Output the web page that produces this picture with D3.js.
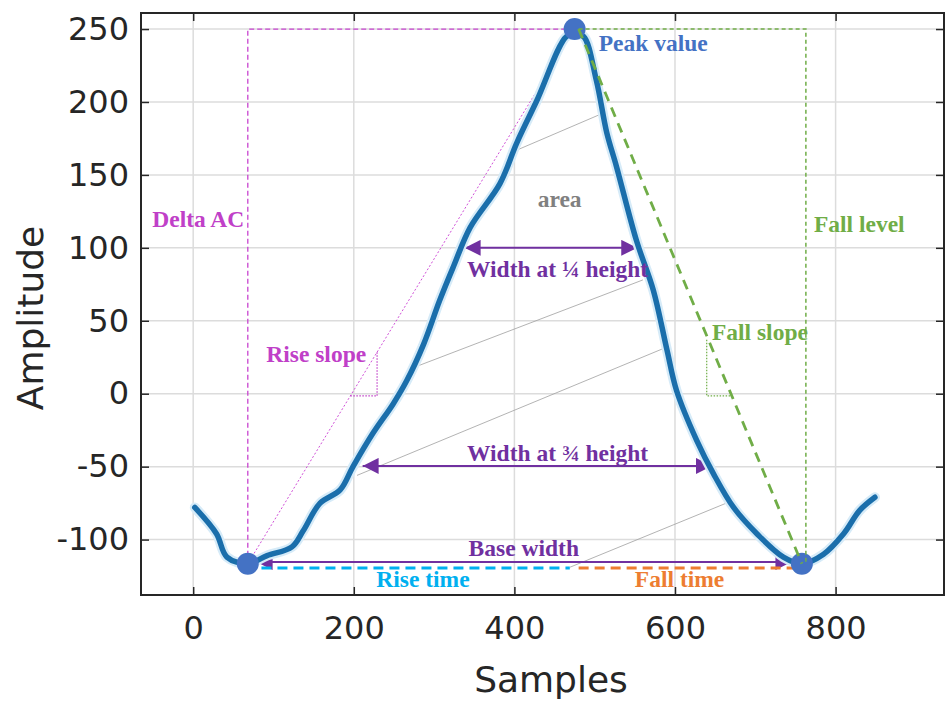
<!DOCTYPE html>
<html>
<head>
<meta charset="utf-8">
<script src="https://cdn.jsdelivr.net/npm/d3@7"></script>
<style>
  body { margin: 0; background: #fff; }
  .tick-label { font-family: "DejaVu Sans", sans-serif; fill: #262626; }
  .note { font-family: "Liberation Serif", "Times New Roman", serif; font-weight: bold; }
</style>
</head>
<body>
<svg id="chart"></svg>
<script>
// waveform
const sampleX = [2, 29, 42, 68, 92, 123, 137, 158, 183, 199, 224, 249, 266, 287, 307, 324, 345, 382, 403, 428, 465, 475, 486, 502, 515, 527, 552, 573, 590, 602, 627, 648, 673, 702, 735, 758, 785, 810, 830, 849];
const amplitude = [-78, -96, -112, -116.5, -111, -105, -94, -75, -66, -50, -27, -7, 9, 34, 64, 87, 114, 144, 172, 201, 245, 246, 245, 215, 179, 156, 105, 71, 30, 2, -32, -55, -78, -96, -112, -116.5, -110, -96, -80, -71];

const xTicks = [0, 200, 400, 600, 800];
const yTicks = [-100, -50, 0, 50, 100, 150, 200, 250];

// feature points: rise start, peak, fall end
const keyX = [68, 475, 758];
const keyY = [-116.5, 250, -116.5];

// horizontal measures
const widthNames = ["Width at ¼ height", "Width at ¾ height", "Base width"];
const widthY = [100, -49.5, -115.4];
const widthFrom = [338, 211, 79];
const widthTo = [553, 646, 745];

// "area" hatch segments [x0, y0, x1, y1]
const hatchLines = [
  [403, 167, 509, 192],
  [270, 17, 560, 78],
  [204, -56, 590, 32],
  [469, -119, 664, -75]
];

const labels = [
  { text: "Delta AC", x: -51, y: 114, color: "#c040c8" },
  { text: "Peak value", x: 505, y: 235, color: "#4472c4" },
  { text: "area", x: 429, y: 128, color: "#808080" },
  { text: "Fall level", x: 773, y: 111, color: "#70ad47" },
  { text: "Rise slope", x: 91, y: 22, color: "#c040c8" },
  { text: "Fall slope", x: 646, y: 37, color: "#70ad47" },
  { text: "Width at ¼ height", x: 341, y: 80, color: "#7030a0" },
  { text: "Width at ¾ height", x: 341, y: -46, color: "#7030a0" },
  { text: "Base width", x: 343, y: -111.5, color: "#7030a0" },
  { text: "Rise time", x: 228, y: -132.5, color: "#00b0f0" },
  { text: "Fall time", x: 550, y: -132.5, color: "#ed7d31" }
];

const svgWidth = 945, svgHeight = 702;
const margin = { top: 13, right: 1, bottom: 107, left: 141 };

const svg = d3.select("#chart")
  .attr("width", svgWidth)
  .attr("height", svgHeight);

const xScale = d3.scaleLinear()
  .domain([-65, 935])
  .range([margin.left, svgWidth - margin.right]);

const yScale = d3.scaleLinear()
  .domain([-138, 261])
  .range([svgHeight - margin.bottom, margin.top]);

const x0 = xScale.range()[0], x1 = xScale.range()[1];
const y0 = yScale.range()[1], y1 = yScale.range()[0];

// grid
svg.append("g").selectAll("line")
  .data(xTicks).enter().append("line")
  .attr("x1", d => xScale(d)).attr("x2", d => xScale(d))
  .attr("y1", y0).attr("y2", y1)
  .attr("stroke", "#dcdcdc").attr("stroke-width", 1.5);
svg.append("g").selectAll("line")
  .data(yTicks).enter().append("line")
  .attr("y1", d => yScale(d)).attr("y2", d => yScale(d))
  .attr("x1", x0).attr("x2", x1)
  .attr("stroke", "#dcdcdc").attr("stroke-width", 1.5);

// axes with inward ticks, box on
const tickLen = 8;
const xAxis = d3.axisBottom(xScale).tickValues(xTicks).tickSize(-tickLen).tickPadding(20);
const yAxis = d3.axisLeft(yScale).tickValues(yTicks).tickSize(-tickLen).tickPadding(12)
  .tickFormat(d => String(d).replace("−", "-"));

const gx = svg.append("g").attr("transform", `translate(0,${y1})`).call(xAxis);
const gy = svg.append("g").attr("transform", `translate(${x0},0)`).call(yAxis);
svg.append("g").attr("transform", `translate(0,${y0})`)
  .call(d3.axisTop(xScale).tickValues(xTicks).tickSize(-tickLen).tickFormat(""));
svg.append("g").attr("transform", `translate(${x1},0)`)
  .call(d3.axisRight(yScale).tickValues(yTicks).tickSize(-tickLen).tickFormat(""));

svg.selectAll(".domain").remove();
svg.selectAll(".tick line").attr("stroke", "#262626").attr("stroke-width", 1.5);
svg.selectAll(".tick text").attr("class", "tick-label").style("font-size", "32px");
gx.selectAll(".tick text").attr("dy", "0.75em");

svg.append("rect")
  .attr("x", x0).attr("y", y0)
  .attr("width", x1 - x0).attr("height", y1 - y0)
  .attr("fill", "none").attr("stroke", "#262626").attr("stroke-width", 2);

// axis titles
svg.append("text")
  .attr("class", "tick-label")
  .attr("x", 551).attr("y", 692)
  .attr("text-anchor", "middle")
  .style("font-size", "36px")
  .text("Samples");
svg.append("text")
  .attr("class", "tick-label")
  .attr("transform", "translate(43,318) rotate(-90)")
  .attr("text-anchor", "middle")
  .style("font-size", "36px")
  .text("Amplitude");

// arrowhead
const defs = svg.append("defs");
defs.append("marker")
  .attr("id", "arrow")
  .attr("markerUnits", "userSpaceOnUse")
  .attr("viewBox", "0 0 16 16")
  .attr("refX", 16).attr("refY", 8)
  .attr("markerWidth", 16).attr("markerHeight", 16)
  .attr("orient", "auto-start-reverse")
  .append("path")
  .attr("d", "M0,0 L16,8 L0,16 Z")
  .attr("fill", "#7030a0");

const ann = svg.append("g");

// hatch lines in area
ann.selectAll(".hatch")
  .data(hatchLines).enter().append("line")
  .attr("x1", d => xScale(d[0])).attr("y1", d => yScale(d[1]))
  .attr("x2", d => xScale(d[2])).attr("y2", d => yScale(d[3]))
  .attr("stroke", "#a0a0a0").attr("stroke-width", 0.8);

// delta AC box (magenta)
ann.append("path")
  .attr("d", `M${xScale(keyX[0])},${yScale(keyY[0])} L${xScale(keyX[0])},${yScale(keyY[1])} L${xScale(keyX[1])},${yScale(keyY[1])}`)
  .attr("fill", "none").attr("stroke", "#c844d0").attr("stroke-width", 1.3)
  .attr("stroke-dasharray", "5,3");

// rise slope line + triangle
const riseK = (keyY[1] - keyY[0]) / (keyX[1] - keyX[0]);
ann.append("line")
  .attr("x1", xScale(keyX[0])).attr("y1", yScale(keyY[0]))
  .attr("x2", xScale(keyX[1])).attr("y2", yScale(keyY[1]))
  .attr("stroke", "#d050d8").attr("stroke-width", 1).attr("stroke-dasharray", "2,2");
const rcX = 229, rcY = -1.5;
ann.append("path")
  .attr("d", `M${xScale(keyX[0] + (rcY - keyY[0]) / riseK)},${yScale(rcY)} L${xScale(rcX)},${yScale(rcY)} L${xScale(rcX)},${yScale(keyY[0] + riseK * (rcX - keyX[0]))}`)
  .attr("fill", "none").attr("stroke", "#c040c8").attr("stroke-width", 1.2).attr("stroke-dasharray", "1.5,1.5");

// width arrows
ann.selectAll(".width")
  .data(widthY).enter().append("line")
  .attr("x1", (d, i) => xScale(widthFrom[i])).attr("x2", (d, i) => xScale(widthTo[i]))
  .attr("y1", d => yScale(d)).attr("y2", d => yScale(d))
  .attr("stroke", "#7030a0").attr("stroke-width", 2)
  .attr("marker-start", "url(#arrow)").attr("marker-end", "url(#arrow)");

// rise / fall time
ann.append("line")
  .attr("x1", xScale(85)).attr("x2", xScale(469))
  .attr("y1", yScale(-119.5)).attr("y2", yScale(-119.5))
  .attr("stroke", "#00b0f0").attr("stroke-width", 3).attr("stroke-dasharray", "10,6");
ann.append("line")
  .attr("x1", xScale(480)).attr("x2", xScale(747))
  .attr("y1", yScale(-119.5)).attr("y2", yScale(-119.5))
  .attr("stroke", "#ed7d31").attr("stroke-width", 3).attr("stroke-dasharray", "10,6");

// waveform
const line = d3.line()
  .x((d, i) => xScale(sampleX[i]))
  .y(d => yScale(d))
  .curve(d3.curveCatmullRom.alpha(0.5));

svg.append("path")
  .datum(amplitude)
  .attr("d", line)
  .attr("fill", "none").attr("stroke", "#d6ebf8").attr("stroke-width", 10)
  .attr("stroke-linejoin", "round").attr("stroke-linecap", "round");
svg.append("path")
  .datum(amplitude)
  .attr("d", line)
  .attr("fill", "none").attr("stroke", "#1a6eab").attr("stroke-width", 5.5)
  .attr("stroke-linejoin", "round").attr("stroke-linecap", "round");

// key points
svg.selectAll(".key")
  .data(keyX).enter().append("circle")
  .attr("cx", d => xScale(d))
  .attr("cy", (d, i) => yScale(keyY[i]))
  .attr("r", 11)
  .attr("fill", "#4472c4");

// fall level box (green), drawn over the curve
const overlay = svg.append("g");
overlay.append("path")
  .attr("d", `M${xScale(keyX[1] + 5)},${yScale(keyY[1])} L${xScale(763)},${yScale(keyY[1])} L${xScale(763)},${yScale(keyY[2])}`)
  .attr("fill", "none").attr("stroke", "#70ad47").attr("stroke-width", 1.5)
  .attr("stroke-dasharray", "4,3");

// fall slope line + triangle
const fallK = (keyY[2] - keyY[1]) / (keyX[2] - keyX[1]);
overlay.append("line")
  .attr("x1", xScale(keyX[1] + 5)).attr("y1", yScale(keyY[1]))
  .attr("x2", xScale(keyX[2])).attr("y2", yScale(keyY[2]))
  .attr("stroke", "#70ad47").attr("stroke-width", 2.8).attr("stroke-dasharray", "10,7");
const fcX = 639.5, fcY = -1.5;
overlay.append("path")
  .attr("d", `M${xScale(fcX)},${yScale(keyY[1] + fallK * (fcX - keyX[1]))} L${xScale(fcX)},${yScale(fcY)} L${xScale(keyX[1] + (fcY - keyY[1]) / fallK)},${yScale(fcY)}`)
  .attr("fill", "none").attr("stroke", "#70ad47").attr("stroke-width", 1.2).attr("stroke-dasharray", "1.5,1.5");

// labels
svg.append("g").selectAll("text")
  .data(labels).enter().append("text")
  .attr("class", "note")
  .attr("x", d => xScale(d.x))
  .attr("y", d => yScale(d.y))
  .attr("fill", d => d.color)
  .style("font-size", "23.5px")
  .text(d => d.text);
</script>
</body>
</html>
